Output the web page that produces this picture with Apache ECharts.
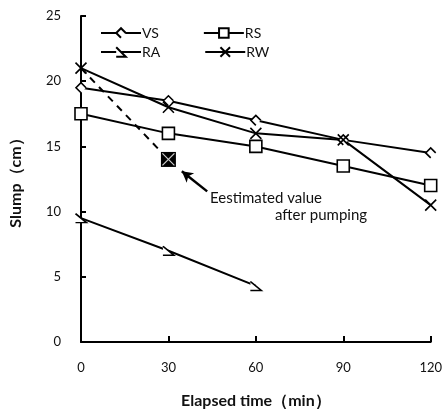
<!DOCTYPE html>
<html>
<head>
<meta charset="utf-8">
<script src="https://cdn.jsdelivr.net/npm/echarts@6/dist/echarts.min.js"></script>
<style>
  html, body { margin: 0; padding: 0; background: #fff; }
  #slumpChart { width: 445px; height: 414px; }
</style>
</head>
<body>
<div id="slumpChart"></div>
<script>
// elapsed time (min)
var times = [0, 30, 60, 90, 120];
// slump (cm) per mix
var vsData = [19.5, 18.5, 17, 15.5, 14.5];
var rsData = [17.5, 16, 15, 13.5, 12];
var raData = [9.5, 7, 4.3];
var rwData = [21, 18, 16, 15.5, 10.5];
// estimated value after pumping (dashed from RW start)
var estTimes = [0, 30];
var estData = [21, 14];
var xTicks = [0, 30, 60, 90, 120];
var yTicks = [0, 5, 10, 15, 20, 25];

function pairs(xs, ys) {
    return ys.map(function (v, i) { return [xs[i], v]; });
}

var font = 'Lato, "Open Sans", sans-serif';
var black = '#000';

// 记号
var symVS = 'path://M12,6 L6,0 L0,6 L6,12';
var symRA = 'path://M0,0 L10,8 L0,8';
var symRW = 'path://M0,0 L12,12 M12,0 L0,12';

var chart = echarts.init(document.getElementById('slumpChart'));

function lineSeries(name, data, symbol, size) {
    return {
        name: name,
        type: 'line',
        data: data,
        symbol: symbol,
        symbolSize: size,
        showAllSymbol: true,
        z: 3,
        lineStyle: { color: black, width: 2 },
        itemStyle: { color: '#fff', borderColor: black, borderWidth: 1.6 },
        emphasis: { disabled: true }
    };
}

var legendBase = {
    left: 95,
    orient: 'horizontal',
    itemWidth: 40, itemHeight: 12, itemGap: 44,
    textStyle: { fontSize: 14, color: '#111', fontFamily: font, padding: [0, 0, 0, -4] }
};

chart.setOption({
    animation: false,
    backgroundColor: '#fff',
    textStyle: { fontFamily: font },
    grid: { left: 78, right: 12, top: 16, bottom: 69 },
    legend: [
        Object.assign({}, legendBase, { top: 21, data: ['VS', 'RS'] }),
        Object.assign({}, legendBase, { top: 40, data: ['RA', 'RW'] })
    ],
    xAxis: {
        type: 'value',
        min: xTicks[0], max: xTicks[xTicks.length - 1], interval: 30,
        name: 'Elapsed time（min）',
        nameLocation: 'middle', nameGap: 51,
        nameTextStyle: { fontSize: 16, fontWeight: 'bold', color: '#111', fontFamily: font },
        axisLine: { lineStyle: { color: black, width: 2 } },
        axisTick: { inside: true, length: 6, lineStyle: { color: black, width: 2 } },
        axisLabel: { fontSize: 13, color: '#111', margin: 19, fontFamily: font },
        splitLine: { show: false }
    },
    yAxis: {
        type: 'value',
        min: yTicks[0], max: yTicks[yTicks.length - 1], interval: 5,
        name: 'Slump（cm）',
        nameLocation: 'middle', nameGap: 57, nameRotate: 90,
        nameTextStyle: { fontSize: 16, fontWeight: 'bold', color: '#111', fontFamily: font },
        axisLine: { lineStyle: { color: black, width: 2 } },
        axisTick: { inside: true, length: 5, lineStyle: { color: black, width: 2 } },
        axisLabel: { fontSize: 13, color: '#111', margin: 20, fontFamily: font },
        splitLine: { show: false }
    },
    series: [
        lineSeries('VS', pairs(times, vsData), symVS, 10),
        lineSeries('RS', pairs(times, rsData), 'rect', 12),
        lineSeries('RA', pairs(times, raData), symRA, [11, 9]),
        lineSeries('RW', pairs(times, rwData), symRW, 11),
        {
            name: 'est', type: 'line', data: pairs(estTimes, estData),
            symbol: 'none', z: 2,
            lineStyle: { color: black, width: 2, type: [7, 6] },
            emphasis: { disabled: true }
        },
        {
            name: 'estPoint', type: 'scatter', data: [[estTimes[1], estData[1]]],
            symbol: 'rect', symbolSize: 15, z: 4,
            itemStyle: { color: black, opacity: 1 },
            emphasis: { disabled: true }
        },
        {
            name: 'estCross', type: 'scatter', data: [[estTimes[1], estData[1]]],
            symbol: symRW, symbolSize: 12, z: 5,
            itemStyle: { color: 'none', borderColor: '#fff', borderWidth: 1.2 },
            emphasis: { disabled: true },
            markLine: {
                silent: true, symbol: ['none', 'arrow'], symbolSize: [9, 11],
                label: { show: false },
                lineStyle: { color: black, width: 2.5, type: 'solid' },
                data: [[{ coord: [43.3, 11.55] }, { coord: [34.6, 13.1] }]]
            }
        }
    ],
    graphic: [
        { type: 'text', left: 210, top: 191,
          style: { text: 'Eestimated value', fontSize: 15, fill: '#111', fontFamily: font } },
        { type: 'text', left: 275, top: 208,
          style: { text: 'after pumping', fontSize: 15, fill: '#111', fontFamily: font } }
    ]
});
</script>
</body>
</html>
